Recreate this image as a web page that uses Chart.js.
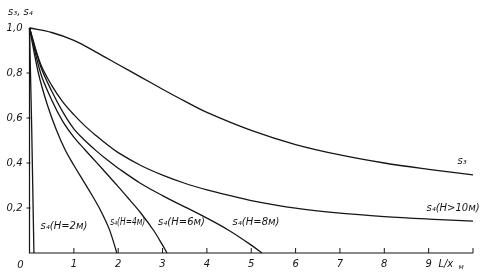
<!DOCTYPE html>
<html><head><meta charset="utf-8">
<script src="https://cdn.jsdelivr.net/npm/chart.js@4/dist/chart.umd.min.js"></script>
<style>html,body{margin:0;padding:0;background:#fff;overflow:hidden}</style>
</head><body>
<canvas id="c" width="492" height="279"></canvas>
<script>
// ---- data ----
const xTicks = [1,2,3,4,5,6,7,8,9,10];
const xTickLabels = ['1','2','3','4','5','6','7','8','9',''];
const yTicks = [0.2,0.4,0.6,0.8,1.0];
const yTickLabels = ['0,2','0,4','0,6','0,8','1,0'];

const L_s3 = [0,0.5,1,1.5,2,2.5,3,3.5,4,5,6,7,8,9,10];
const s3   = [1.0,0.98,0.945,0.893,0.838,0.783,0.728,0.675,0.625,0.545,0.482,0.436,0.40,0.372,0.347];

const L_h10 = [0,0.25,0.5,0.75,1,1.25,1.5,1.75,2,2.5,3,3.5,4,4.5,5,6,7,8,9,10];
const s4_h10 = [1.0,0.84,0.745,0.672,0.615,0.565,0.522,0.482,0.446,0.39,0.346,0.31,0.281,0.256,0.233,0.199,0.177,0.162,0.151,0.142];

const L_h8 = [0,0.25,0.5,0.75,1,1.25,1.5,1.75,2,2.5,3,3.5,4,4.5,5,5.24];
const s4_h8 = [1.0,0.83,0.72,0.627,0.552,0.5,0.455,0.414,0.377,0.31,0.255,0.205,0.155,0.1,0.035,0];

const L_h6 = [0,0.25,0.5,0.75,1,1.25,1.5,1.75,2,2.25,2.5,2.8,3.0,3.1];
const s4_h6 = [1.0,0.8,0.68,0.585,0.515,0.459,0.405,0.35,0.295,0.238,0.18,0.1,0.035,0];

const L_h4 = [0,0.2,0.4,0.6,0.8,1.0,1.2,1.4,1.6,1.8,1.97];
const s4_h4 = [1.0,0.8,0.66,0.55,0.46,0.39,0.325,0.26,0.19,0.105,0];

const L_h2 = [0,0.05,0.1];
const s4_h2 = [1.0,0.55,0];

const curveLabels = [
  {text:'s₃', L:9.65, v:0.405, w:0},
  {text:'s₄(H>10м)', L:8.95, v:0.2, w:57},
  {text:'s₄(H=2м)', L:0.25, v:0.12, w:47},
  {text:'s₄(H=4м)', L:1.82, v:0.135, w:35},
  {text:'s₄(H=6м)', L:2.9, v:0.135, w:50},
  {text:'s₄(H=8м)', L:4.58, v:0.135, w:50}
];

const INK = '#151515';
const pts = (xs, ys) => xs.map((x,i)=>({x:x,y:ys[i]}));
const ds = (xs, ys, smooth) => ({
  data: pts(xs, ys), showLine: true, borderColor: INK, borderWidth: 1.3,
  pointRadius: 0, fill: false, tension: smooth ? 0.35 : 0, clip: false
});

const FONT = 'italic 10px "DejaVu Sans"';

const decor = {
  id: 'decor',
  afterDraw(chart) {
    const ctx = chart.ctx, xs = chart.scales.x, ys = chart.scales.y;
    const x0 = xs.getPixelForValue(0), x10 = xs.getPixelForValue(10);
    const y0 = ys.getPixelForValue(0), y1 = ys.getPixelForValue(1);
    ctx.save();
    ctx.strokeStyle = INK; ctx.fillStyle = INK; ctx.lineWidth = 1.2;
    ctx.beginPath();
    ctx.moveTo(x0, y1); ctx.lineTo(x0, y0); ctx.lineTo(x10, y0);
    ctx.stroke();
    ctx.lineWidth = 1;
    xTicks.forEach(t => { const px = xs.getPixelForValue(t);
      ctx.beginPath(); ctx.moveTo(px, y0); ctx.lineTo(px, y0-5); ctx.stroke(); });
    yTicks.slice(0,4).forEach(t => { const py = ys.getPixelForValue(t);
      ctx.beginPath(); ctx.moveTo(x0-3, py); ctx.lineTo(x0+1, py); ctx.stroke(); });
    ctx.font = FONT; ctx.textBaseline = 'middle';
    ctx.textAlign = 'center';
    xTicks.forEach((t,i) => { if (xTickLabels[i]) ctx.fillText(xTickLabels[i], xs.getPixelForValue(t), y0+11); });
    ctx.fillText('0', x0-9, y0+12);
    ctx.textAlign = 'right';
    yTicks.forEach((t,i) => ctx.fillText(yTickLabels[i], x0-7, ys.getPixelForValue(t)));
    ctx.textAlign = 'left';
    ctx.fillText('s₃, s₄', 8, 12);
    const tx = xs.getPixelForValue(9.22);
    ctx.fillText('L/x', tx, y0+11);
    ctx.font = 'italic 7px "DejaVu Sans"';
    ctx.fillText('м', tx + 20, y0+14);
    ctx.font = FONT;
    curveLabels.forEach(c => {
      const px = xs.getPixelForValue(c.L), py = ys.getPixelForValue(c.v);
      if (c.w) ctx.fillText(c.text, px, py, c.w); else ctx.fillText(c.text, px, py);
    });
    ctx.restore();
  }
};

new Chart(document.getElementById('c'), {
  type: 'scatter',
  data: { datasets: [
    ds(L_s3, s3, true), ds(L_h10, s4_h10, true), ds(L_h8, s4_h8, true),
    ds(L_h6, s4_h6, true), ds(L_h4, s4_h4, true), ds(L_h2, s4_h2, false)
  ]},
  options: {
    responsive: false, devicePixelRatio: 1, animation: false,
    layout: { padding: { left: 29.5, right: 19, top: 28, bottom: 26 } },
    plugins: { legend: { display: false }, tooltip: { enabled: false } },
    scales: {
      x: { type: 'linear', min: 0, max: 10, display: false },
      y: { type: 'linear', min: 0, max: 1, display: false }
    }
  },
  plugins: [decor]
});
</script>
</body></html>
